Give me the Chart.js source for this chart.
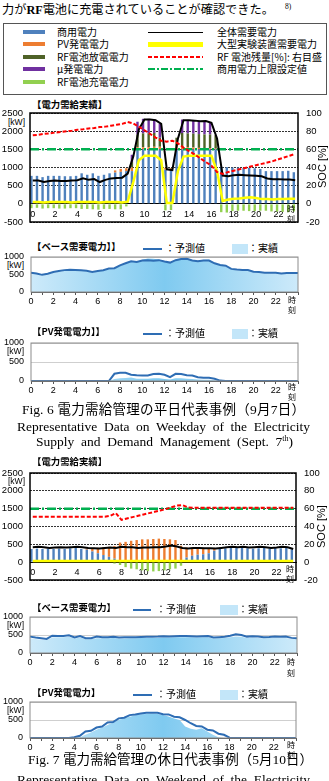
<!DOCTYPE html>
<html>
<head>
<meta charset="utf-8">
<script src="https://cdn.jsdelivr.net/npm/chart.js@4.4.0/dist/chart.umd.min.js"></script>
<style>
  body { margin: 0; background: #fff; }
  #page { position: relative; width: 329px; height: 781px; overflow: hidden; color: #000;
          font-family: "Liberation Sans", "Noto Sans CJK JP", sans-serif; }
  .t { position: absolute; white-space: nowrap; line-height: 1; }
  .jp { font-family: "Noto Sans CJK JP", sans-serif; }
  .serif { font-family: "Liberation Serif", "Noto Sans CJK JP", serif; }
  .ttl { font-family: "Noto Sans CJK JP", sans-serif; font-weight: bold; font-size: 9.4px; }
  .kw { font-size: 8.5px; }
  .jk { font-family: "Noto Sans CJK JP", sans-serif; font-size: 8px; }
  .sw { position: absolute; }
  .cap { position: absolute; white-space: nowrap; font-family: "Liberation Serif", "Noto Sans CJK JP", serif;
         font-size: 13.5px; line-height: 18px; text-align: justify; text-align-last: justify; }
  canvas { position: absolute; left: 0; }
  .lg { font-family: "Noto Sans CJK JP", sans-serif; font-size: 10px; }
</style>
</head>
<body>
<div id="page">
  <div class="t serif" style="left:2px;top:4px;font-size:12.2px;">力が<b>RF</b>電池に充電されていることが確認できた。</div>
  <div class="t serif" style="left:285px;top:3px;font-size:7.5px;">8)</div>

  <!-- legend box -->
  <div style="position:absolute;left:3px;top:23px;width:322px;height:70px;border:1px solid #555;"></div>
  <div class="sw" style="left:23px;top:30px;width:22px;height:4px;background:#4f81bd;"></div>
  <div class="sw" style="left:23px;top:42px;width:22px;height:4px;background:#ed7d31;"></div>
  <div class="sw" style="left:23px;top:55px;width:22px;height:4px;background:#4f6228;"></div>
  <div class="sw" style="left:23px;top:67px;width:22px;height:4px;background:#7030a0;"></div>
  <div class="sw" style="left:23px;top:80px;width:22px;height:4px;background:#92d050;"></div>
  <div class="t lg" style="left:57px;top:27px;">商用電力</div>
  <div class="t lg" style="left:57px;top:39px;">PV発電電力</div>
  <div class="t lg" style="left:57px;top:52px;">RF電池放電電力</div>
  <div class="t lg" style="left:57px;top:64px;">μ発電電力</div>
  <div class="t lg" style="left:57px;top:77px;">RF電池充電電力</div>
  <div class="sw" style="left:148px;top:32px;width:55px;height:1px;background:#000;"></div>
  <div class="sw" style="left:148px;top:42px;width:55px;height:5px;background:#ffff00;"></div>
  <div class="sw" style="left:148px;top:56px;width:55px;height:2px;background:repeating-linear-gradient(90deg,#f00 0 4px,transparent 4px 6px);"></div>
  <div class="sw" style="left:148px;top:68px;width:55px;height:2px;background:repeating-linear-gradient(90deg,#00b050 0 7px,transparent 7px 9px,#00b050 9px 11px,transparent 11px 13px);"></div>
  <div class="t lg" style="left:217px;top:27px;">全体需要電力</div>
  <div class="t lg" style="left:217px;top:39px;">大型実験装置需要電力</div>
  <div class="t lg" style="left:217px;top:52px;">RF 電池残量[%]: 右目盛</div>
  <div class="t lg" style="left:217px;top:64px;">商用電力上限設定値</div>

  <!-- weekday supply chart -->
  <div class="t ttl" style="left:32px;top:100px;">【電力需給実績】</div>
  <div class="t kw" style="left:8px;top:118px;">[kW]</div>
  <canvas id="wdSupply" width="329" height="128" style="top:100px;"></canvas>
  <div class="t jk" style="left:287px;top:205px;">時</div>
  <div class="t jk" style="left:287px;top:215px;">刻</div>
  <div class="t" style="left:317px;top:188px;font-size:11px;transform:rotate(-90deg);transform-origin:0 0;">SOC [%]</div>

  <!-- weekday base demand -->
  <div class="t ttl" style="left:32px;top:242px;">【ベース需要電力】】</div>
  <div class="sw" style="left:143px;top:248px;width:19px;height:2px;background:#2e6db4;"></div>
  <div class="t lg" style="left:165px;top:243px;">：予測値</div>
  <div class="sw" style="left:232px;top:244px;width:16px;height:10px;background:#c3e6f9;"></div>
  <div class="t lg" style="left:248px;top:243px;">：実績</div>
  <div class="t kw" style="left:7px;top:261px;">[kW]</div>
  <canvas id="wdBase" width="329" height="64" style="top:250px;"></canvas>
  <div class="t jk" style="left:288px;top:296px;">時</div>
  <div class="t jk" style="left:288px;top:306px;">刻</div>

  <!-- weekday PV -->
  <div class="t ttl" style="left:32px;top:327px;">【PV発電電力】】</div>
  <div class="sw" style="left:143px;top:333px;width:19px;height:2px;background:#2e6db4;"></div>
  <div class="t lg" style="left:165px;top:328px;">：予測値</div>
  <div class="sw" style="left:232px;top:329px;width:16px;height:10px;background:#c3e6f9;"></div>
  <div class="t lg" style="left:248px;top:328px;">：実績</div>
  <div class="t kw" style="left:7px;top:347px;">[kW]</div>
  <canvas id="wdPV" width="329" height="67" style="top:336px;"></canvas>
  <div class="t jk" style="left:288px;top:383px;">時</div>
  <div class="t jk" style="left:288px;top:393px;">刻</div>

  <div class="cap" style="left:22px;top:401px;width:283px;">Fig. 6 電力需給管理の平日代表事例（9月7日）</div>
  <div class="cap" style="left:17px;top:418px;width:293px;">Representative Data on Weekday of the Electricity</div>
  <div class="cap" style="left:36px;top:433px;width:257px;">Supply and Demand Management (Sept. 7<sup style="font-size:8px;line-height:0;">th</sup>)</div>

  <!-- weekend supply chart -->
  <div class="t ttl" style="left:32px;top:457px;">【電力需給実績】</div>
  <div class="t kw" style="left:8px;top:477px;">[kW]</div>
  <canvas id="weSupply" width="329" height="128" style="top:460px;"></canvas>
  <div class="t jk" style="left:286px;top:565px;">時</div>
  <div class="t jk" style="left:286px;top:575px;">刻</div>
  <div class="t" style="left:316px;top:548px;font-size:11px;transform:rotate(-90deg);transform-origin:0 0;">SOC [%]</div>

  <!-- weekend base demand -->
  <div class="t ttl" style="left:32px;top:603px;">【ベース需要電力】</div>
  <div class="sw" style="left:133px;top:609px;width:18px;height:2px;background:#2e6db4;"></div>
  <div class="t lg" style="left:156px;top:604px;">：予測値</div>
  <div class="sw" style="left:220px;top:605px;width:18px;height:10px;background:#c3e6f9;"></div>
  <div class="t lg" style="left:238px;top:604px;">：実績</div>
  <div class="t kw" style="left:7px;top:621px;">[kW]</div>
  <canvas id="weBase" width="329" height="65" style="top:610px;"></canvas>
  <div class="t jk" style="left:287px;top:658px;">時</div>
  <div class="t jk" style="left:287px;top:669px;">刻</div>

  <!-- weekend PV -->
  <div class="t ttl" style="left:32px;top:688px;">【PV発電電力】</div>
  <div class="sw" style="left:133px;top:694px;width:19px;height:2px;background:#2e6db4;"></div>
  <div class="t lg" style="left:156px;top:689px;">：予測値</div>
  <div class="sw" style="left:220px;top:690px;width:18px;height:10px;background:#c3e6f9;"></div>
  <div class="t lg" style="left:238px;top:689px;">：実績</div>
  <div class="t kw" style="left:7px;top:706px;">[kW]</div>
  <canvas id="wePV" width="329" height="65" style="top:695px;"></canvas>
  <div class="t jk" style="left:287px;top:741px;">時</div>
  <div class="t jk" style="left:287px;top:751px;">刻</div>

  <div class="cap" style="left:28px;top:751px;width:285px;">Fig. 7 電力需給管理の休日代表事例（5月10日）</div>
  <div class="cap" style="left:17px;top:771px;width:293px;">Representative Data on Weekend of the Electricity</div>
</div>

<script>
// half-hour slots, 0:00 .. 24:00
const slotLabels = ['0','0.5','1','1.5','2','2.5','3','3.5','4','4.5','5','5.5','6','6.5','7','7.5','8','8.5','9','9.5',
  '10','10.5','11','11.5','12','12.5','13','13.5','14','14.5','15','15.5','16','16.5','17','17.5','18','18.5','19','19.5',
  '20','20.5','21','21.5','22','22.5','23','23.5','24'];

const limitKW = 1500; // 商用電力上限設定値

// --- Fig.6 weekday (Sept. 7), kW per half hour ---
const wdCommercial = [770,770,735,770,770,770,760,760,770,840,800,840,770,800,840,860,880,900,900,1500,
  1500,1500,1500,1500,940,940,1500,1500,1500,1500,1500,1500,1500,1500,1020,1010,1000,1000,990,990,
  980,960,900,900,900,900,910,870];
const wdPV = [0,0,0,0,0,0,0,0,0,0,0,0,0,0,0,60,80,80,100,60,
  60,60,70,70,50,40,70,70,60,50,40,30,30,20,0,0,0,0,0,0,
  0,0,0,0,0,0,0,0];
const wdDischarge = [0,0,0,0,0,0,0,0,0,0,0,0,0,0,0,0,0,0,150,350,
  380,380,380,250,0,0,250,380,380,380,380,380,380,370,0,0,0,0,0,0,
  0,0,0,0,0,0,0,0];
const wdMicro = [0,0,0,0,0,0,0,0,0,0,0,0,0,0,0,0,0,0,200,350,
  400,400,380,380,0,0,0,370,370,360,350,370,330,0,0,0,0,0,0,0,
  0,0,0,0,0,0,0,0];
const wdCharge = [-120,-110,-130,-120,-120,-130,-130,-120,-120,-140,-140,-150,-160,-140,-140,-150,-150,-70,0,0,
  0,0,0,0,-180,-170,0,0,0,0,0,0,0,0,-230,-240,-200,-190,-190,-200,
  -200,-190,-190,-210,-210,-220,-230,-210];
const wdDemand = [640,640,600,630,640,630,630,640,650,700,660,680,600,660,700,710,720,830,1300,2050,
  2320,2320,2300,2200,950,930,1800,2300,2300,2290,2270,2280,2230,1800,780,760,790,800,790,780,
  770,760,700,680,680,670,670,650];
const wdExperiment = [50,50,40,50,50,50,50,40,50,50,50,50,40,50,50,50,40,60,600,1200,
  1320,1320,1320,1200,20,20,900,1300,1320,1320,1320,1320,1320,900,80,120,140,150,170,180,
  160,130,130,120,130,130,140,140];
const wdSOC = [75.5,76,77,77.5,78.5,79,80,80.5,81.5,82,83,83.5,84.5,85,86,87,88,90,88.5,85,
  81,77,73,69.5,68.5,69.5,66.5,62,58,54.5,50,46,42,35,33,35,36.5,38,39.5,41,
  42.5,44,45.5,47,49,51,53,55];

const wdBaseForecast = [550,530,490,520,570,600,625,635,630,620,610,575,600,620,670,680,760,820,880,860,
  900,910,890,910,870,840,910,940,950,900,880,900,900,820,770,750,660,640,630,630,
  580,570,550,550,550,530,540,540,540];
const wdBaseActual = [530,510,470,500,550,580,610,620,615,605,595,560,585,605,650,665,745,810,870,860,
  920,960,950,930,880,850,920,960,970,910,890,920,930,830,760,730,640,625,615,615,
  565,555,535,535,535,515,525,525,525];
const wdPVForecast = [0,0,0,0,0,0,0,0,0,0,0,0,0,0,0,190,215,215,165,150,
  145,145,185,190,165,100,190,185,150,145,100,85,85,60,10,0,0,0,0,0,
  0,0,0,0,0,0,0,0,0];
const wdPVActual = [0,0,0,0,0,0,0,0,0,0,0,0,0,0,0,50,70,80,90,60,
  60,60,70,70,50,40,70,70,60,50,40,30,30,20,0,0,0,0,0,0,
  0,0,0,0,0,0,0,0,0];

// --- Fig.7 weekend (May 10) ---
const weCommercial = [370,380,370,380,370,380,370,390,400,370,350,300,250,200,150,100,50,20,0,0,
  0,0,0,0,0,0,0,30,130,180,210,220,250,320,380,390,400,400,400,390,
  380,390,400,380,400,390,400,360];
const wePV = [0,0,0,0,0,0,0,0,0,0,30,80,150,220,280,350,500,550,600,620,
  640,640,650,660,650,640,620,430,280,230,180,170,140,70,20,0,0,0,0,0,
  0,0,0,0,0,0,0,0];
const weDischarge = [0,0,0,0,0,0,0,0,0,0,0,0,0,0,0,0,0,0,0,0,
  0,0,0,0,0,0,0,0,0,0,0,0,0,0,0,0,0,0,0,0,
  0,0,0,0,0,0,0,0];
const weMicro = [0,0,0,0,0,0,0,0,0,0,0,0,0,0,0,0,0,0,0,0,
  0,0,0,0,0,0,0,0,0,0,0,0,0,0,0,0,0,0,0,0,
  0,0,0,0,0,0,0,0];
const weCharge = [0,0,0,0,0,0,0,0,0,0,0,0,0,0,0,-40,-80,-140,-180,-200,
  -230,-250,-260,-250,-230,-200,-180,-100,0,0,0,0,0,0,0,0,0,0,0,0,
  0,0,0,0,0,0,0,0];
const weDemand = [420,430,420,400,410,420,410,420,430,420,400,390,380,400,410,400,430,420,420,400,
  410,410,420,420,440,470,440,400,380,400,400,390,390,380,400,420,430,420,430,410,
  420,430,420,400,410,430,420,370];
const weExperiment = [30,30,30,30,30,30,30,30,30,30,30,30,30,30,30,30,30,30,30,30,
  30,30,30,30,30,30,30,30,30,30,30,30,30,30,30,30,30,30,30,30,
  30,30,30,30,30,30,30,30];
const weSOC = [51,51,51,51,51,51,51,51,51,51,51,51,51,51,52,55,47.5,49,50.5,52,
  53.5,55,56.5,58,59.5,61.5,63.5,64,61.5,61,61,61,61,61,61,61,61,61,61,61,
  61,61,61,61,61,61,61,61];

const weBaseForecast = [455,430,410,390,480,470,470,490,430,470,410,410,455,440,440,450,430,435,440,440,
  445,450,450,455,465,460,465,470,470,465,460,465,470,430,440,450,480,520,500,455,
  465,460,440,445,455,450,455,420,410];
const weBaseActual = [410,390,370,360,430,440,440,450,400,430,380,380,410,410,410,415,400,405,410,410,
  415,420,420,425,430,430,435,440,440,435,430,435,440,400,410,420,440,460,450,420,
  430,420,410,415,420,420,420,390,390];
const wePVForecast = [0,0,0,0,0,0,0,0,20,60,180,200,290,320,430,445,545,565,636,655,
  680,700,700,700,660,655,590,575,500,410,336,320,230,210,120,90,10,0,0,0,
  0,0,0,0,0,0,0,0,0];
const wePVActual = [0,0,0,0,0,0,0,0,0,20,90,150,230,290,360,430,500,550,590,630,
  660,670,680,670,640,600,545,500,320,260,230,270,180,90,20,0,0,0,0,0,
  0,0,0,0,0,0,0,0,0];

const COL = {
  commercial: '#4f81bd', pv: '#ed7d31', discharge: '#4f6228', micro: '#7030a0', charge: '#92d050',
  demand: '#000000', experiment: '#ffff00', soc: '#ff0000', limit: '#00b050', forecast: '#2e6db4'
};

Chart.defaults.font.family = "'Liberation Sans Narrow','Liberation Sans',Arial,sans-serif";
Chart.defaults.font.size = 9;
Chart.defaults.color = '#000';

const frame = {
  id: 'frame',
  afterDraw(chart, args, o) {
    const a = chart.chartArea;
    const ctx = chart.ctx;
    ctx.save();
    ctx.strokeStyle = o.color;
    ctx.lineWidth = o.width;
    ctx.strokeRect(a.left, a.top, a.right - a.left, a.bottom - a.top);
    ctx.restore();
  }
};

// plain numbers, no thousands separator
const plain = v => String(v);

function evenHour(v) {
  const h = Number(this.getLabelForValue(v));
  return (h % 2 === 0 && h < 24) ? String(h) : '';
}

function drawSupply(id, plotRight, padBottom, d) {
  const bar = (label, data, color) => ({
    label, data, backgroundColor: color, stack: 'supply', order: 10,
    barPercentage: 0.86, categoryPercentage: 1
  });
  const line = (label, data, color, width, order, extra) => Object.assign({
    type: 'line', label, data, borderColor: color, borderWidth: width,
    pointRadius: 0, fill: false, tension: 0, stack: label, order
  }, extra || {});

  new Chart(document.getElementById(id), {
    type: 'bar',
    data: {
      labels: slotLabels.slice(0, 48),
      datasets: [
        bar('商用電力', d.commercial, COL.commercial),
        bar('PV発電電力', d.pv, COL.pv),
        bar('RF電池放電電力', d.discharge, COL.discharge),
        bar('μ発電電力', d.micro, COL.micro),
        bar('RF電池充電電力', d.charge, COL.charge),
        line('商用電力上限設定値', [{x: 0, y: limitKW}, {x: 24, y: limitKW}], COL.limit, 2.5, 4,
             {xAxisID: 'x2', borderDash: [9, 3, 2, 3]}),
        line('大型実験装置需要電力', d.experiment, COL.experiment, 2.5, 3),
        line('全体需要電力', d.demand, COL.demand, 2, 2),
        line('RF電池残量', d.soc, COL.soc, 2, 1, {yAxisID: 'y2', borderDash: [4, 2]})
      ]
    },
    options: {
      responsive: false,
      animation: false,
      layout: {padding: {top: 13, bottom: padBottom, left: 0, right: 0}},
      plugins: {legend: {display: false}, tooltip: {enabled: false}, frame: {color: '#000', width: 1.5}},
      scales: {
        x: {
          stacked: true, position: {y: 0}, offset: true, z: 1,
          grid: {offset: true, drawOnChartArea: false, drawTicks: false},
          border: {display: true, color: '#000', width: 1},
          ticks: {autoSkip: false, maxRotation: 0, padding: 5, callback: evenHour},
          afterFit(s) { s.height = 0; s.paddingLeft = 0; s.paddingRight = 0; }
        },
        x2: {type: 'linear', display: false, min: 0, max: 24, offset: false},
        y: {
          stacked: true, min: -500, max: 2500,
          ticks: {stepSize: 500, padding: 7, font: {size: 9.5}, callback: plain},
          grid: {color: '#333', drawTicks: false},
          border: {display: false, dash: [2, 1]},
          afterFit(s) { s.width = 30; s.paddingTop = 0; s.paddingBottom = 0; }
        },
        y2: {
          position: 'right', min: -20, max: 100,
          ticks: {stepSize: 20, padding: 8, font: {size: 9.5}, callback: plain},
          grid: {drawOnChartArea: false, drawTicks: false},
          border: {display: false},
          afterFit(s) { s.width = 329 - plotRight; s.paddingTop = 0; s.paddingBottom = 0; }
        }
      }
    },
    plugins: [frame]
  });
}

function areaFill(c) {
  const chart = c.chart;
  const a = chart.chartArea;
  if (!a) return '#a9daf4';
  const g = chart.ctx.createLinearGradient(a.left, 0, a.right, 0);
  g.addColorStop(0, '#cdeafa');
  g.addColorStop(0.5, '#7fcaf0');
  g.addColorStop(1, '#cdeafa');
  return g;
}

function drawForecast(id, plotLeft, plotRight, forecast, actual) {
  new Chart(document.getElementById(id), {
    type: 'line',
    data: {
      labels: slotLabels,
      datasets: [
        {label: '予測値', data: forecast, borderColor: COL.forecast, borderWidth: 2, pointRadius: 0,
         fill: false, tension: 0, order: 1},
        {label: '実績', data: actual, borderColor: 'rgba(0,0,0,0)', borderWidth: 0, pointRadius: 0,
         fill: 'origin', backgroundColor: areaFill, tension: 0, order: 2}
      ]
    },
    options: {
      responsive: false,
      animation: false,
      layout: {padding: {top: 7, bottom: 0, left: 0, right: 329 - plotRight}},
      plugins: {legend: {display: false}, tooltip: {enabled: false}, frame: {color: '#8c8c8c', width: 1}},
      scales: {
        x: {
          offset: false,
          grid: {drawOnChartArea: false, tickLength: 3,
                 color: c => (c.index % 2 === 0 ? '#555' : 'rgba(0,0,0,0)')},
          border: {display: true, color: '#555'},
          ticks: {autoSkip: false, maxRotation: 0, padding: 1, callback: evenHour},
          afterFit(s) { s.height = 22; s.paddingLeft = 0; s.paddingRight = 0; }
        },
        y: {
          min: 0, max: 1000,
          ticks: {stepSize: 500, padding: 7, callback: plain},
          grid: {color: '#cfcfcf', drawTicks: false},
          border: {display: false},
          afterFit(s) { s.width = plotLeft; s.paddingTop = 0; s.paddingBottom = 0; }
        }
      }
    },
    plugins: [frame]
  });
}

drawSupply('wdSupply', 298, 6, {
  commercial: wdCommercial, pv: wdPV, discharge: wdDischarge, micro: wdMicro, charge: wdCharge,
  demand: wdDemand, experiment: wdExperiment, soc: wdSOC
});
drawSupply('weSupply', 296, 8, {
  commercial: weCommercial, pv: wePV, discharge: weDischarge, micro: weMicro, charge: weCharge,
  demand: weDemand, experiment: weExperiment, soc: weSOC
});
drawForecast('wdBase', 31, 298, wdBaseForecast, wdBaseActual);
drawForecast('wdPV', 31, 298, wdPVForecast, wdPVActual);
drawForecast('weBase', 30, 297, weBaseForecast, weBaseActual);
drawForecast('wePV', 30, 296, wePVForecast, wePVActual);
</script>
</body>
</html>
